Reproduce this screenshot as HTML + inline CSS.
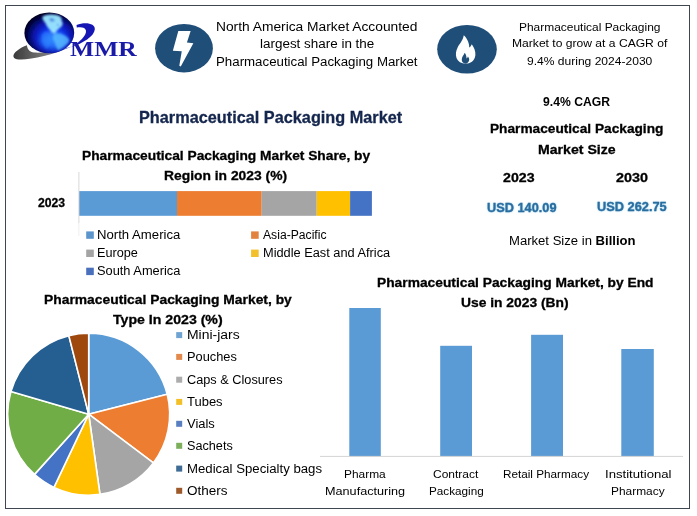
<!DOCTYPE html>
<html lang="en">
<head>
<meta charset="utf-8">
<title>Pharmaceutical Packaging Market</title>
<style>
html,body{margin:0;padding:0;background:#fff;}
body{width:697px;height:516px;position:relative;overflow:hidden;font-family:"Liberation Sans", sans-serif;color:#000;}
#g{position:absolute;left:0;top:0;width:697px;height:516px;}
.t{position:absolute;white-space:pre;line-height:1;transform-origin:0 0;}
</style>
</head>
<body>
<svg id="g" width="697" height="516" viewBox="0 0 697 516">
<rect x="5.5" y="5.5" width="684" height="503" fill="none" stroke="#3f4650" stroke-width="1"/>
<ellipse cx="184" cy="48.2" rx="28.9" ry="24.2" fill="#1f4e79"/>
<polygon points="178.31,31.11 190.65,31.11 186.92,42.45 193.37,43.16 180.75,66.55 179.31,65.83 181.75,51.34 172.86,50.77" fill="#fff"/>
<ellipse cx="467" cy="49.3" rx="29.8" ry="24.3" fill="#1f4e79"/>
<path transform="translate(420 5) scale(0.14347)" d="M305,211 C300,245 276,270 263,294 C250,318 247,345 254,368 C263,395 290,409 318,409 C350,409 381,390 386,350 C389,320 376,294 361,273 C356,284 351,292 343,297 C345,270 331,235 305,211 Z" fill="#fff"/>
<path transform="translate(420 5) scale(0.14347)" d="M312,333 C305,349 291,362 291,382 C291,399 305,409 316,409 C328,409 343,399 343,380 C343,372 339,365 334,359 C332,366 329,370 324,373 C325,358 320,344 312,333 Z" fill="#1f4e79"/>
<rect x="79" y="191.1" width="98.0" height="24.7" fill="#5b9bd5"/>
<rect x="177" y="191.1" width="84.7" height="24.7" fill="#ed7d31"/>
<rect x="261.7" y="191.1" width="55.0" height="24.7" fill="#a5a5a5"/>
<rect x="316.7" y="191.1" width="33.4" height="24.7" fill="#ffc000"/>
<rect x="350.1" y="191.1" width="21.8" height="24.7" fill="#4472c4"/>
<line x1="78.9" y1="172" x2="78.9" y2="223" stroke="#d8d8d8" stroke-width="1"/><line x1="78.9" y1="223" x2="78.9" y2="236" stroke="#efefef" stroke-width="1"/>
<rect x="86.2" y="231.4" width="7.6" height="7.4" fill="#5b95cc"/>
<rect x="86.2" y="249.6" width="7.6" height="7.4" fill="#a4a4a4"/>
<rect x="86.2" y="267.7" width="7.6" height="7.4" fill="#4a70bd"/>
<rect x="251.1" y="231.4" width="7.6" height="7.4" fill="#e2823f"/>
<rect x="251.1" y="249.6" width="7.6" height="7.4" fill="#f2c02a"/>
<path d="M88.7,414.2 L88.70,333.20 A81.0,81.0 0 0 1 167.23,394.33 Z" fill="#5b9bd5" stroke="#fff" stroke-width="1.6" stroke-linejoin="round"/>
<path d="M88.7,414.2 L167.23,394.33 A81.0,81.0 0 0 1 153.39,462.95 Z" fill="#ed7d31" stroke="#fff" stroke-width="1.6" stroke-linejoin="round"/>
<path d="M88.7,414.2 L153.39,462.95 A81.0,81.0 0 0 1 99.97,494.41 Z" fill="#a5a5a5" stroke="#fff" stroke-width="1.6" stroke-linejoin="round"/>
<path d="M88.7,414.2 L99.97,494.41 A81.0,81.0 0 0 1 53.96,487.37 Z" fill="#ffc000" stroke="#fff" stroke-width="1.6" stroke-linejoin="round"/>
<path d="M88.7,414.2 L53.96,487.37 A81.0,81.0 0 0 1 34.50,474.39 Z" fill="#4472c4" stroke="#fff" stroke-width="1.6" stroke-linejoin="round"/>
<path d="M88.7,414.2 L34.50,474.39 A81.0,81.0 0 0 1 10.92,391.60 Z" fill="#70ad47" stroke="#fff" stroke-width="1.6" stroke-linejoin="round"/>
<path d="M88.7,414.2 L10.92,391.60 A81.0,81.0 0 0 1 68.83,335.67 Z" fill="#255e91" stroke="#fff" stroke-width="1.6" stroke-linejoin="round"/>
<path d="M88.7,414.2 L68.83,335.67 A81.0,81.0 0 0 1 88.70,333.20 Z" fill="#9e480e" stroke="#fff" stroke-width="1.6" stroke-linejoin="round"/>
<rect x="176.2" y="332.1" width="6" height="6" fill="#6fa3d1"/>
<rect x="176.2" y="353.9" width="6" height="6" fill="#e3894c"/>
<rect x="176.2" y="376.7" width="6" height="6" fill="#acacac"/>
<rect x="176.2" y="398.9" width="6" height="6" fill="#f2c026"/>
<rect x="176.2" y="420.8" width="6" height="6" fill="#5a7fc1"/>
<rect x="176.2" y="442.8" width="6" height="6" fill="#7dae5c"/>
<rect x="176.2" y="465.6" width="6" height="6" fill="#3e6c94"/>
<rect x="176.2" y="487.8" width="6" height="6" fill="#9e592b"/>
<rect x="349.3" y="308" width="31.5" height="148.4" fill="#5b9bd5"/>
<rect x="440.2" y="345.8" width="31.8" height="110.6" fill="#5b9bd5"/>
<rect x="531.1" y="334.8" width="31.9" height="121.6" fill="#5b9bd5"/>
<rect x="621.3" y="349" width="32.5" height="107.4" fill="#5b9bd5"/>
<line x1="320" y1="456.4" x2="683" y2="456.4" stroke="#d4d4d4" stroke-width="1"/>
<defs>
<radialGradient id="gl" cx="0.57" cy="0.58" r="0.6" fx="0.58" fy="0.64">
<stop offset="0" stop-color="#2468ff"/>
<stop offset="0.35" stop-color="#1238ee"/>
<stop offset="0.62" stop-color="#0a16b0"/>
<stop offset="0.85" stop-color="#030650"/>
<stop offset="1" stop-color="#00001c"/>
</radialGradient>
<linearGradient id="gs" x1="0" y1="0" x2="1" y2="0">
<stop offset="0" stop-color="#3a3a3a"/>
<stop offset="0.5" stop-color="#747474"/>
<stop offset="0.8" stop-color="#7c84b0"/>
<stop offset="1" stop-color="#2a3cc8"/>
</linearGradient>
<filter id="bl" x="-30%" y="-30%" width="160%" height="160%"><feGaussianBlur stdDeviation="0.9"/></filter>
<filter id="bl3" x="-50%" y="-50%" width="200%" height="200%"><feGaussianBlur stdDeviation="3"/></filter>
<filter id="bl2" x="-20%" y="-20%" width="140%" height="140%"><feGaussianBlur stdDeviation="0.35"/></filter>
<clipPath id="gc"><ellipse cx="49.3" cy="32.9" rx="24.6" ry="20.1"/></clipPath>
</defs>
<g filter="url(#bl2)">
<path d="M27,45.2 C18,48.5 11,54.5 14.2,58 C19,62.3 48,57 72,46.5 C56,51.2 38,54.3 31,51.8 C28,50.3 27,47.5 27,45.2 Z" fill="url(#gs)"/>
<path d="M76.5,24.9 C85,21.5 95.5,23 94.8,29.5 C94,36.5 83,43 71.5,47.2 C79.5,42 86.5,36 86,30.8 C85.6,27.6 81.5,26.8 76.8,27.6 Z" fill="#1818b4"/>
<ellipse cx="49.3" cy="32.9" rx="24.9" ry="20.4" fill="url(#gl)"/>
</g>
<g clip-path="url(#gc)">
<ellipse cx="53" cy="41" rx="13" ry="8" fill="#3aa0ff" opacity="0.6" filter="url(#bl3)"/>
<g filter="url(#bl)">
<path d="M42.5,16.5 C46,14.2 52,13.8 57.5,15.2 C60.5,16.2 62.5,18.5 61.5,20.8 C63.3,22.5 63,25.2 61,27 C58.5,28.5 56.5,30.5 55.5,33 C53.5,34 51,32.5 50.2,30 C48,28.2 46.3,25.5 45.3,22.8 C43.8,21 42,19 42.5,16.5 Z" fill="#9be8ff" opacity="0.95"/>
<path d="M53.5,34 C57,32.5 62,33.8 66,36.2 C69,38 70,40.5 68.5,42.5 C65.5,45.5 61.5,48.5 58,50.5 C56.5,48 55.5,45 54.5,42 C53,39.5 52.3,37 53.5,34 Z" fill="#58bcff" opacity="0.8"/>
<path d="M42,34 C45,31 49,31 52,34 C52,39 50,45 47,49 C43,46 41,40 42,34 Z" fill="#2f86ff" opacity="0.45"/>
<path d="M49.5,18.2 C51.5,17.6 54,18.6 55,20.4 C54,21.8 51.5,21.8 50,21 Z M56.8,24 C58,23.6 59.3,24.5 59,25.8 C57.6,26.3 56.8,25.4 56.8,24 Z" fill="#1a50d0" opacity="0.6"/>
</g>
</g>

</svg>
<div class="t" style='left:216.36px;top:19.98px;font-size:13.52px;transform:scaleX(1.0193);'>North America Market Accounted</div>
<div class="t" style='left:259.51px;top:36.58px;font-size:13.52px;transform:scaleX(0.9944);'>largest share in the</div>
<div class="t" style='left:215.61px;top:55.48px;font-size:13.52px;transform:scaleX(0.9824);'>Pharmaceutical Packaging Market</div>
<div class="t" style='left:519.25px;top:22.42px;font-size:11.48px;transform:scaleX(1.0416);'>Pharmaceutical Packaging</div>
<div class="t" style='left:512.20px;top:37.72px;font-size:11.48px;transform:scaleX(1.0547);'>Market to grow at a CAGR of</div>
<div class="t" style='left:526.98px;top:55.62px;font-size:11.48px;transform:scaleX(1.0508);'>9.4% during 2024-2030</div>
<div class="t" style='left:138.53px;top:109.28px;font-size:17.15px;transform:scaleX(0.9495);font-weight:700;color:#14264d;-webkit-text-stroke:0.3px #14264d;'>Pharmaceutical Packaging Market</div>
<div class="t" style='left:82.21px;top:148.54px;font-size:13.08px;transform:scaleX(1.0513);font-weight:700;-webkit-text-stroke:0.3px #000;'>Pharmaceutical Packaging Market Share, by</div>
<div class="t" style='left:164.26px;top:169.04px;font-size:13.08px;transform:scaleX(1.0585);font-weight:700;-webkit-text-stroke:0.3px #000;'>Region in 2023 (%)</div>
<div class="t" style='left:38.11px;top:196.18px;font-size:13.52px;transform:scaleX(0.9011);font-weight:700;-webkit-text-stroke:0.3px #000;'>2023</div>
<div class="t" style='left:96.89px;top:228.08px;font-size:13.52px;transform:scaleX(0.9730);'>North America</div>
<div class="t" style='left:96.73px;top:245.88px;font-size:13.52px;transform:scaleX(0.9377);'>Europe</div>
<div class="t" style='left:96.70px;top:263.88px;font-size:13.52px;transform:scaleX(0.9479);'>South America</div>
<div class="t" style='left:262.75px;top:228.08px;font-size:13.52px;transform:scaleX(0.8991);'>Asia-Pacific</div>
<div class="t" style='left:262.64px;top:245.88px;font-size:13.52px;transform:scaleX(0.9460);'>Middle East and Africa</div>
<div class="t" style='left:542.63px;top:94.78px;font-size:13.52px;transform:scaleX(0.9006);font-weight:700;'>9.4% CAGR</div>
<div class="t" style='left:490.19px;top:122.42px;font-size:13.23px;transform:scaleX(1.0349);font-weight:700;-webkit-text-stroke:0.3px #000;'>Pharmaceutical Packaging</div>
<div class="t" style='left:538.46px;top:143.42px;font-size:13.23px;transform:scaleX(1.0676);font-weight:700;-webkit-text-stroke:0.3px #000;'>Market Size</div>
<div class="t" style='left:503.40px;top:171.42px;font-size:13.23px;transform:scaleX(1.0715);font-weight:700;-webkit-text-stroke:0.3px #000;'>2023</div>
<div class="t" style='left:616.44px;top:171.42px;font-size:13.23px;transform:scaleX(1.0858);font-weight:700;-webkit-text-stroke:0.3px #000;'>2030</div>
<div class="t" style='left:486.80px;top:201.88px;font-size:12.65px;transform:scaleX(1.0092);font-weight:700;color:#2a6e9f;-webkit-text-stroke:0.3px #2a6e9f;text-shadow:0 0 2px rgba(90,175,225,.8);'>USD 140.09</div>
<div class="t" style='left:596.87px;top:200.88px;font-size:12.65px;transform:scaleX(1.0120);font-weight:700;color:#2a6e9f;-webkit-text-stroke:0.3px #2a6e9f;text-shadow:0 0 2px rgba(90,175,225,.8);'>USD 262.75</div>
<div class="t" style='left:509.07px;top:234.18px;font-size:13.52px;transform:scaleX(0.9685);'>Market Size in <b>Billion</b></div>
<div class="t" style='left:44.02px;top:293.24px;font-size:13.08px;transform:scaleX(1.0587);font-weight:700;-webkit-text-stroke:0.3px #000;'>Pharmaceutical Packaging Market, by</div>
<div class="t" style='left:113.03px;top:313.44px;font-size:13.08px;transform:scaleX(1.0799);font-weight:700;-webkit-text-stroke:0.3px #000;'>Type In 2023 (%)</div>
<div class="t" style='left:187.34px;top:328.08px;font-size:13.52px;transform:scaleX(1.0308);'>Mini-jars</div>
<div class="t" style='left:187.03px;top:349.88px;font-size:13.52px;transform:scaleX(0.9468);'>Pouches</div>
<div class="t" style='left:187.38px;top:372.68px;font-size:13.52px;transform:scaleX(0.9419);'>Caps &amp; Closures</div>
<div class="t" style='left:187.21px;top:394.88px;font-size:13.52px;transform:scaleX(0.9607);'>Tubes</div>
<div class="t" style='left:187.41px;top:416.78px;font-size:13.52px;transform:scaleX(0.9578);'>Vials</div>
<div class="t" style='left:186.83px;top:438.78px;font-size:13.52px;transform:scaleX(0.9364);'>Sachets</div>
<div class="t" style='left:186.79px;top:462.28px;font-size:13.52px;transform:scaleX(0.9770);'>Medical Specialty bags</div>
<div class="t" style='left:187.17px;top:483.78px;font-size:13.52px;transform:scaleX(1.0009);'>Others</div>
<div class="t" style='left:377.35px;top:276.14px;font-size:13.08px;transform:scaleX(1.0539);font-weight:700;-webkit-text-stroke:0.3px #000;'>Pharmaceutical Packaging Market, by End</div>
<div class="t" style='left:461.00px;top:295.64px;font-size:13.08px;transform:scaleX(1.0578);font-weight:700;-webkit-text-stroke:0.3px #000;'>Use in 2023 (Bn)</div>
<div class="t" style='left:343.90px;top:468.40px;font-size:11.63px;transform:scaleX(1.0256);'>Pharma</div>
<div class="t" style='left:325.39px;top:484.80px;font-size:11.63px;transform:scaleX(1.0880);'>Manufacturing</div>
<div class="t" style='left:432.55px;top:468.40px;font-size:11.63px;transform:scaleX(1.0312);'>Contract</div>
<div class="t" style='left:429.41px;top:484.80px;font-size:11.63px;transform:scaleX(1.0079);'>Packaging</div>
<div class="t" style='left:503.16px;top:468.40px;font-size:11.63px;transform:scaleX(1.0086);'>Retail Pharmacy</div>
<div class="t" style='left:604.97px;top:468.40px;font-size:11.63px;transform:scaleX(1.1305);'>Institutional</div>
<div class="t" style='left:610.59px;top:484.80px;font-size:11.63px;transform:scaleX(1.0239);'>Pharmacy</div>
<div class="t" style='left:70.20px;top:39.34px;font-size:21.83px;transform:scaleX(1.1733);font-weight:700;color:#1a1aa8;font-family:"Liberation Serif", serif;'>MMR</div>
</body>
</html>
